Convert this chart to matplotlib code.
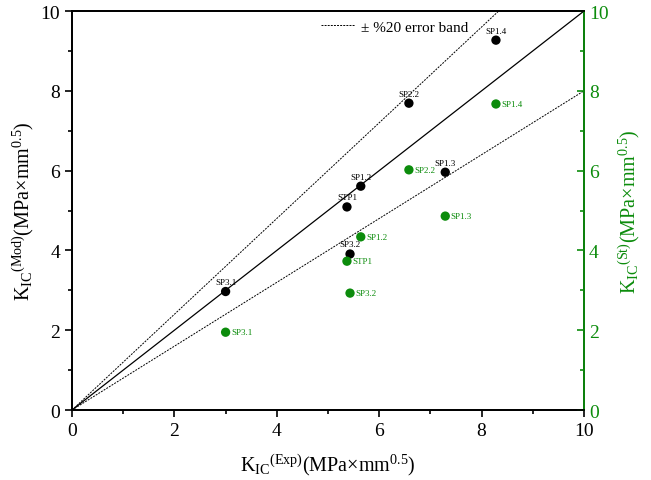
import matplotlib
matplotlib.use("Agg")
import matplotlib.pyplot as plt
from matplotlib.ticker import MultipleLocator

plt.rcParams['font.family'] = ['Liberation Serif', 'DejaVu Serif']
plt.rcParams['mathtext.fontset'] = 'custom'
plt.rcParams['mathtext.rm'] = 'Liberation Serif'
plt.rcParams['mathtext.it'] = 'Liberation Serif:italic'

# Datos
samples = ["SP3.1", "SP3.2", "STP1", "SP1.2", "SP2.2", "SP1.3", "SP1.4"]
k_exp = [3.00, 5.43, 5.37, 5.64, 6.58, 7.29, 8.28]
k_mod = [2.97, 3.91, 5.09, 5.61, 7.69, 5.96, 9.27]
k_st = [1.95, 2.93, 3.73, 4.34, 6.02, 4.86, 7.67]

green = '#0c8c0c'

fig = plt.figure(figsize=(6.51, 4.81), dpi=100)
ax = fig.add_axes([0.1106, 0.1455, 0.7865, 0.8295])
ax2 = ax.twinx()

# linhas de referencia
ax.plot([0, 10], [0, 10], color='black', lw=0.9)
ax.plot([0, 10], [0, 12], color='black', lw=0.7, ls=(0, (2, 1.2)),
        label='± %20 error band')
ax.plot([0, 10], [0, 8], color='black', lw=0.7, ls=(0, (2, 1.2)))

ax.scatter(k_exp, k_mod, s=45, c='black', edgecolors='none', zorder=3)
for name, x, y in zip(samples, k_exp, k_mod):
    ax.annotate(name, (x, y), xytext=(0, 4), textcoords='offset points',
                ha='center', va='bottom', fontsize=6.5)

ax2.scatter(k_exp, k_st, s=45, c=green, edgecolors='none', zorder=3)
for name, x, y in zip(samples, k_exp, k_st):
    ax2.annotate(name, (x, y), xytext=(4, 0), textcoords='offset points',
                 ha='left', va='center', fontsize=6.5, color=green)

ax.set_xlim(0, 10)
ax.set_ylim(0, 10)
ax2.set_ylim(0, 10)

for a in (ax, ax2):
    a.yaxis.set_major_locator(MultipleLocator(2))
    a.yaxis.set_minor_locator(MultipleLocator(1))
ax.xaxis.set_major_locator(MultipleLocator(2))
ax.xaxis.set_minor_locator(MultipleLocator(1))

ax.tick_params(which='both', direction='out', labelsize=14, width=1.2)
ax.tick_params(which='major', length=5)
ax.tick_params(which='minor', length=3)
ax2.tick_params(which='both', direction='in', labelsize=14, width=1.2,
                colors=green)
ax2.tick_params(which='major', length=5)
ax2.tick_params(which='minor', length=3)

for s in ax.spines.values():
    s.set_linewidth(1.3)
for s in ax2.spines.values():
    s.set_linewidth(1.3)
ax2.spines['right'].set_color(green)

ax.set_xlabel(r'K$_{\mathrm{IC}}$$^{\mathrm{(Exp)}}$(MPa×mm$^{0.5}$)', fontsize=14.5, labelpad=9)
ax.set_ylabel(r'K$_{\mathrm{IC}}$$^{\mathrm{(Mod)}}$(MPa×mm$^{0.5}$)', fontsize=14.5, labelpad=3)
ax2.set_ylabel(r'K$_{\mathrm{IC}}$$^{\mathrm{(St)}}$(MPa×mm$^{0.5}$)', fontsize=14.5,
               color=green, rotation=90, labelpad=6)

ax.legend(loc='upper left', bbox_to_anchor=(0.46, 1.012), frameon=False,
          fontsize=11, handlelength=2.2, handletextpad=0.4)

fig.savefig('out.png', dpi=100)
